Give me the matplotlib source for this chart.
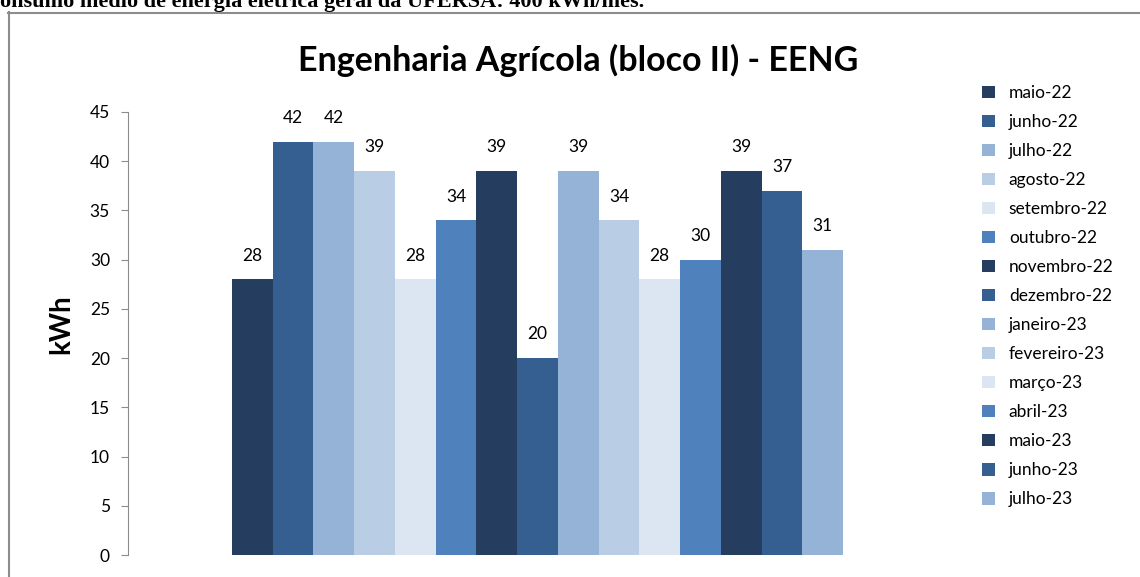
import matplotlib
matplotlib.use("Agg")
import matplotlib.pyplot as plt
from matplotlib.lines import Line2D
from matplotlib.patches import Patch

months = ["maio-22", "junho-22", "julho-22", "agosto-22", "setembro-22", "outubro-22",
          "novembro-22", "dezembro-22", "janeiro-23", "fevereiro-23", "março-23",
          "abril-23", "maio-23", "junho-23", "julho-23"]
values = [28, 42, 42, 39, 28, 34, 39, 20, 39, 34, 28, 30, 39, 37, 31]
palette = ["#253E5F", "#365F91", "#95B3D7", "#B9CDE5", "#DCE6F2", "#4F81BD"]
colors = [palette[i % len(palette)] for i in range(len(values))]
yticks = [0, 5, 10, 15, 20, 25, 30, 35, 40, 45]

W, H = 1140, 577
fig = plt.figure(figsize=(W / 100, H / 100), dpi=100)
fig.patch.set_facecolor("white")

font = "Lato"

# document caption cut at the top
fig.text(0.0, 1 - 7 / H, "onsumo médio de energia elétrica geral da UFERSA: 400 kWh/mês.",
         family="Liberation Serif", fontweight="bold", fontsize=16, ha="left",
         va="baseline", color="black")

# frame of the chart
fig.add_artist(Line2D([8.5 / W, 8.5 / W], [0, 1 - 12 / H], color="#8C8C8C", lw=1.5))
fig.add_artist(Line2D([8 / W, 1.0], [1 - 12.5 / H, 1 - 12.5 / H], color="#8C8C8C", lw=1.5))

left, right, bottom, top = 128, 947, 555, 112
ax = fig.add_axes([left / W, (H - bottom) / H, (right - left) / W, (bottom - top) / H])

xs = list(range(len(values)))
bars = ax.bar(xs, values, width=1.0, color=colors, edgecolor="none")
for x, v in zip(xs, values):
    ax.text(x, v + 1.6, f"{v}", ha="center", va="bottom", fontsize=12.5,
            family=font, color="black")

ax.set_xlim(-3.05, 17.05)
ax.set_ylim(0, 45)
ax.set_yticks(yticks)
ax.set_xticks([])
for s in ["top", "right", "bottom"]:
    ax.spines[s].set_visible(False)
ax.spines["left"].set_color("#8C8C8C")
ax.tick_params(axis="y", direction="out", length=5, color="#8C8C8C",
               labelsize=12.5, pad=8)
for lbl in ax.get_yticklabels():
    lbl.set_family(font)
ax.set_ylabel("kWh", family=font, fontweight="bold", fontsize=20)
ax.yaxis.set_label_coords((74 - left) / (right - left), (bottom - 324) / (bottom - top))

fig.text(578 / W, 1 - 60 / H, "Engenharia Agrícola (bloco II) - EENG", family=font,
         fontweight="bold", fontsize=24.5, ha="center", va="center")

handles = [Patch(facecolor=c, edgecolor="none") for c in colors]
fig.legend(handles, months, loc="upper left", bbox_to_anchor=(975 / W, 1 - 78 / H),
           frameon=False, prop={"family": font, "size": 12.5},
           handlelength=0.75, handleheight=0.75, handletextpad=0.8,
           labelspacing=0.75, borderaxespad=0)

fig.savefig("out.png", dpi=100)
